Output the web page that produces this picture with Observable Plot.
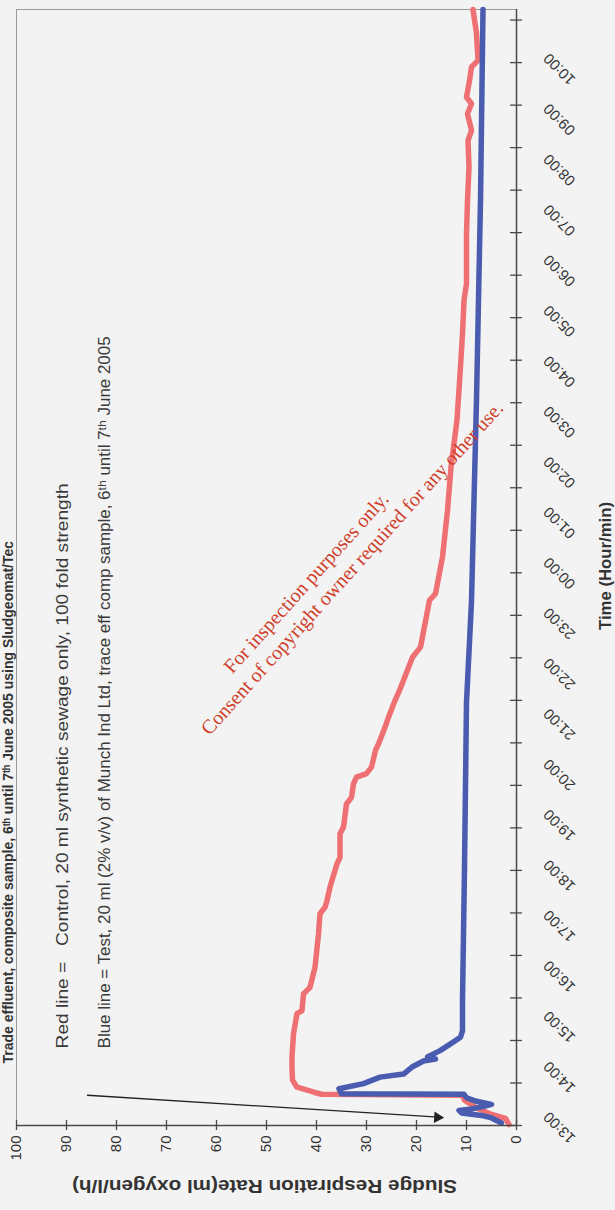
<!DOCTYPE html>
<html>
<head>
<meta charset="utf-8">
<script src="https://cdn.jsdelivr.net/npm/d3@7"></script>
<script src="https://cdn.jsdelivr.net/npm/@observablehq/plot@0.6"></script>
<style>
  html, body { margin: 0; padding: 0; background: #f3f3f3; overflow: hidden; }
  #chart svg { display: block; overflow: visible; }
</style>
</head>
<body>
<div id="chart"></div>
<script>
// ---- data (hours after 13:00 on 6 June; respiration rate ml O2/l/h) ----
const hourLabels = ["13:00","14:00","15:00","16:00","17:00","18:00","19:00","20:00","21:00","22:00","23:00",
  "00:00","01:00","02:00","03:00","04:00","05:00","06:00","07:00","08:00","09:00","10:00"];
const rateTicks = [0,10,20,30,40,50,60,70,80,90,100];
const timeTickCount = 26;
const timeEnd = 22.14;

const redT = [0.02,0.14,0.22,0.35,0.50,0.60,0.62,0.66,0.76,0.90,1.16,1.36,1.82,2.22,2.28,2.61,2.74,3.14,3.80,4.20,4.33,4.46,4.73,5.19,5.32,5.79,5.92,6.38,6.51,6.78,6.91,6.98,7.11,7.44,7.57,7.90,8.10,8.43,8.63,9.29,9.49,10.42,10.55,11.28,12.2,13.06,14.0,15.05,15.71,16.37,16.70,17.69,18.35,19.01,19.54,19.74,20.07,20.27,20.40,20.73,21.0,21.13,21.66,22.14];
const redV = [1.5,2.2,5.0,8.0,10.4,10.8,39.0,40.5,43.9,44.8,44.9,44.9,44.6,43.9,42.9,42.6,41.3,40.3,39.6,39.3,38.3,37.9,37.3,35.9,35.3,35.3,34.6,34.0,33.0,32.6,32.0,30.0,29.0,28.2,27.6,26.3,25.6,24.3,23.4,20.8,19.2,17.4,16.2,14.8,13.8,13.1,11.9,11.2,10.8,10.5,10.0,10.0,9.8,9.5,9.7,9.0,9.8,9.0,10.0,9.4,9.0,7.7,8.0,8.7];

const blueT = [0.05,0.15,0.20,0.25,0.30,0.33,0.38,0.42,0.48,0.55,0.62,0.63,0.73,0.83,0.96,1.02,1.16,1.28,1.32,1.36,1.49,1.62,1.75,1.88,2.5,5.1,8.4,10.4,14.4,18.35,22.14];
const blueV = [3.0,5.0,7.0,11.0,11.5,9.0,6.5,5.0,8.0,10.0,10.5,35.0,35.5,30.6,27.3,22.6,20.9,18.6,16.2,17.8,15.2,13.2,11.2,10.8,10.8,10.4,10.0,9.0,8.0,7.2,6.7];

const arrowFrom = {v: 85.8, t: 0.60};
const arrowTo = {v: 14.8, t: 0.16};

const red = redT.map((t, i) => ({t, v: redV[i], s: "Control"}));
const blue = blueT.map((t, i) => ({t, v: blueV[i], s: "Test"}));
const timeTicks = d3.range(timeTickCount + 1).map(k => k * 21.93 / timeTickCount);
const labelRows = hourLabels.map((l, i) => ({l, h: i}));

const RED = "#ef7073", BLUE = "#4a5cb0", AXIS = "#4a4a4a";
const FONT = "'Liberation Sans', Arial, sans-serif";
const SERIF = "'Liberation Serif', 'Times New Roman', serif";
const TITLE = "Trade effluent, composite sample, 6ᵗʰ until 7ᵗʰ June 2005 using Sludgeomat/Tec";
const NOTE_RED = "Red line =   Control, 20 ml synthetic sewage only, 100 fold strength";
const NOTE_BLUE = "Blue line = Test, 20 ml (2% v/v) of Munch Ind Ltd, trace eff comp sample, 6ᵗʰ until 7ᵗʰ June 2005";
const Y_TITLE = "Sludge Respiration Rate(ml oxygen/l/h)";
const WM1 = "For inspection purposes only.";
const WM2 = "Consent of copyright owner required for any other use.";

const chart = Plot.plot({
  width: 615, height: 1210,
  marginLeft: 16, marginRight: 99, marginTop: 9, marginBottom: 85,
  x: {domain: [100, 0], axis: null},
  y: {domain: [0, timeEnd], axis: null},
  style: {background: "#f3f3f3", fontFamily: FONT, color: "#333"},
  marks: [
    // frame
    Plot.ruleX([100], {stroke: "#9a9a9a", strokeWidth: 1}),
    Plot.ruleY([timeEnd], {stroke: "#9a9a9a", strokeWidth: 1}),
    // title along the (rotated) top edge
    Plot.text([TITLE], {x: 100, y: 1.23, dx: -8, rotate: -90, textAnchor: "start", fontSize: 14, fontWeight: "bold", fill: "#333"}),
    // legend notes
    Plot.text([NOTE_RED], {x: 90.8, y: 1.53, rotate: -90, textAnchor: "start", fontSize: 16.5, fill: "#3a3a3a"}),
    Plot.text([NOTE_BLUE], {x: 82.4, y: 1.53, rotate: -90, textAnchor: "start", fontSize: 16.5, fill: "#3a3a3a"}),
    // series
    Plot.line(red, {x: "v", y: "t", stroke: RED, strokeWidth: 5.5, strokeLinejoin: "round"}),
    Plot.line(blue, {x: "v", y: "t", stroke: BLUE, strokeWidth: 5.5, strokeLinejoin: "round"}),
    // arrow annotation
    Plot.arrow([0], {x1: arrowFrom.v, y1: arrowFrom.t, x2: arrowTo.v, y2: arrowTo.t, stroke: "#222", strokeWidth: 1.3, headLength: 0}),
    Plot.dot([0], {x: arrowTo.v, y: arrowTo.t, dx: -5, symbol: "triangle2", r: 5.5, fill: "#222", rotate: 93.6}),
    // axes
    Plot.ruleX([0], {stroke: AXIS, strokeWidth: 1.5}),
    Plot.ruleY([0], {stroke: AXIS, strokeWidth: 1.5}),
    Plot.ruleX(rateTicks, {x: d => d, y1: -0.1, y2: 0.1, stroke: AXIS, strokeWidth: 1.3}),
    Plot.ruleY(timeTicks, {y: d => d, x1: 1.2, x2: -1.2, stroke: AXIS, strokeWidth: 1.3}),
    Plot.text(rateTicks, {x: d => d, y: 0, dy: 10, rotate: -90, textAnchor: "end", text: d => String(d), fontSize: 15, fill: "#333"}),
    Plot.text(labelRows, {x: 0, y: "h", text: "l", dx: 43, dy: 2, rotate: -135, fontSize: 15, fill: "#333"}),
    Plot.text(["Time (Hour/min)"], {x: 0, y: 11.1, dx: 89, rotate: -90, fontSize: 16, fontWeight: "bold", fill: "#333"}),
    Plot.text([Y_TITLE], {x: 50.4, y: 0, dy: 60, rotate: 180, fontSize: 18, fontWeight: "bold", fill: "#333"}),
    // watermark
    Plot.text([WM1], {x: 26.3, y: 12.5, rotate: -48, textAnchor: "end", fontSize: 20, fontFamily: SERIF, fill: "#cf3e2a"}),
    Plot.text([WM2], {x: 3.4, y: 14.3, rotate: -48, textAnchor: "end", fontSize: 20, fontFamily: SERIF, fill: "#cf3e2a"})
  ]
});
document.getElementById("chart").append(chart);

// fit a few texts to the lengths they have in the scanned original
const fitTo = {[NOTE_RED]: 565, [NOTE_BLUE]: 712, [Y_TITLE]: 385, "Time (Hour/min)": 128};
d3.select(chart).selectAll("text").each(function() {
  const len = fitTo[this.textContent];
  if (len) { this.setAttribute("textLength", len); this.setAttribute("lengthAdjust", "spacingAndGlyphs"); }
});
</script>
</body>
</html>
